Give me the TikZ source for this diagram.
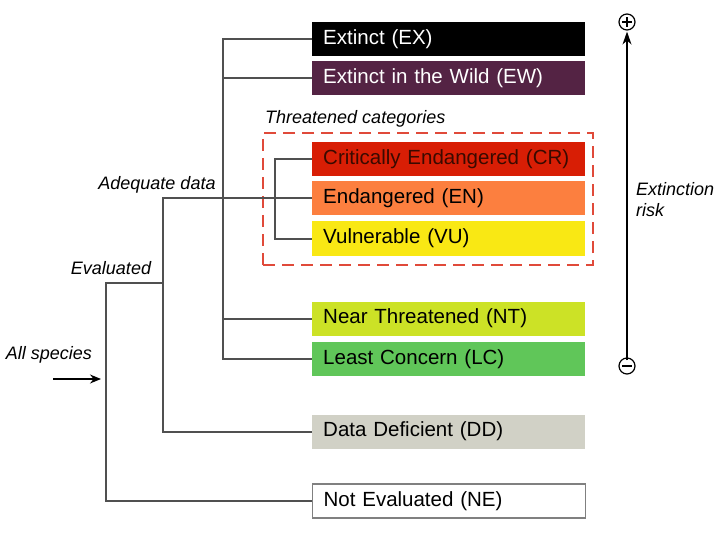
\documentclass[tikz,border=0pt]{standalone}
\usepackage{fontspec}
\setmainfont{Liberation Sans}
\usetikzlibrary{arrows.meta}
\definecolor{cEX}{HTML}{000000}
\definecolor{cEW}{HTML}{542344}
\definecolor{cCR}{HTML}{D81E05}
\definecolor{cEN}{HTML}{FC7F3F}
\definecolor{cVU}{HTML}{F9E814}
\definecolor{cNT}{HTML}{CCE226}
\definecolor{cLC}{HTML}{60C659}
\definecolor{cDD}{HTML}{D1D1C6}
\definecolor{conncol}{HTML}{505050}
\definecolor{dashcol}{HTML}{E04A3A}
\definecolor{crtext}{HTML}{3A0A00}
\tikzset{
  catbox/.style={anchor=west, minimum height=34pt, text width=251pt, inner xsep=11pt, inner ysep=0pt, align=left, font=\fontsize{20.5}{24}\selectfont},
  conn/.style={draw=conncol, line width=2pt},
  lab/.style={font=\fontsize{18}{22}\selectfont\itshape, inner sep=0pt},
  symcirc/.style={circle, draw, line width=1.2pt, minimum size=16pt, inner sep=0pt},
}
\begin{document}
\begin{tikzpicture}[x=1pt,y=-1pt]
\useasboundingbox (0,0) rectangle (720,540);
% category boxes
\node[catbox, fill=cEX, text=white] (EX) at (312,39) {Extinct (EX)};
\node[catbox, fill=cEW, text=white] (EW) at (312,78.5) {Extinct in the Wild (EW)};
\node[catbox, fill=cCR, text=crtext] (CR) at (312,159) {Critically Endangered (CR)};
\node[catbox, fill=cEN] (EN) at (312,198.5) {Endangered (EN)};
\node[catbox, fill=cVU] (VU) at (312,238.5) {Vulnerable (VU)};
\node[catbox, fill=cNT] (NT) at (312,318.5) {Near Threatened (NT)};
\node[catbox, fill=cLC] (LC) at (312,359) {Least Concern (LC)};
\node[catbox, fill=cDD] (DD) at (312,431.5) {Data Deficient (DD)};
\node[catbox, fill=white, draw=gray, line width=1.2pt] (NE) at (312,501) {Not Evaluated (NE)};
% threatened frame
\node[draw=dashcol, line width=1.8pt, dash pattern=on 12pt off 7pt, minimum width=330pt, minimum height=132pt, inner sep=0pt] (thr) at (428,199) {};
\node[lab, anchor=south west] (thrlab) at (265,127) {Threatened categories};
% tree coordinates
\coordinate (adtop) at (223,39);
\coordinate (adbot) at (223,359);
\coordinate (adj) at (163,198.5);
\coordinate (ev) at (106,283);
\coordinate (thb) at (275,159);
% connectors
\draw[conn] (CR.west) -- (thb) |- (VU.west);
\draw[conn] (EX.west) -- (adtop) -- (adbot) -- (LC.west);
\draw[conn] (EW.west) -- (EW.west -| adtop);
\draw[conn] (NT.west) -- (NT.west -| adtop);
\draw[conn] (EN.west) -- (adj) -- (adj |- DD.west) -- (DD.west);
\draw[conn] (ev -| adj) -- (ev) -- (ev |- NE.west) -- (NE.west);
% labels
\node[lab] (adlab) at (157,185) {Adequate data};
\node[lab] (evlab) at (111,268) {Evaluated};
\node[lab] (alllab) at (49,355) {All species};
\coordinate (as1) at (53,379);
\coordinate (as2) at (101,379);
\draw[line width=1.2pt, -{Stealth[length=11pt,width=9pt]}] (as1) -- (as2);
% extinction risk axis
\node[symcirc] (plus) at (627,22) {};
\draw[line width=1.2pt] ([xshift=-5pt]plus.center) -- ([xshift=5pt]plus.center)
  ([yshift=-5pt]plus.center) -- ([yshift=5pt]plus.center);
\node[symcirc] (minus) at (627,366) {};
\draw[line width=1.2pt] ([xshift=-5pt]minus.center) -- ([xshift=5pt]minus.center);
\draw[line width=1.4pt, -{Stealth[length=13pt,width=9pt]}] ([yshift=-3pt]minus.north) -- ([yshift=-1pt]plus.south);
\node[lab, anchor=west, align=left, font=\fontsize{18}{21}\selectfont\itshape] (risk) at (636,200) {Extinction\\risk};
\end{tikzpicture}
\end{document}
